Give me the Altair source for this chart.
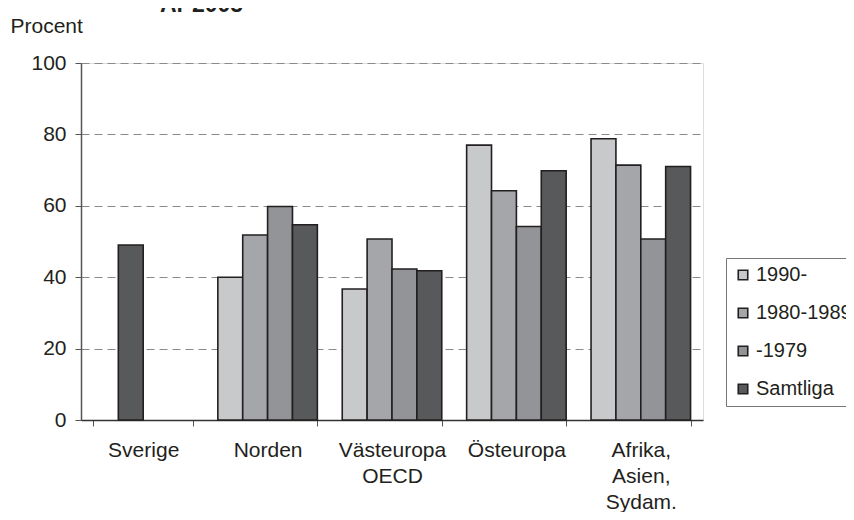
import altair as alt
import pandas as pd

regions = ["Sverige", "Norden", "Västeuropa\nOECD", "Östeuropa", "Afrika,\nAsien,\nSydam."]
series = ["1990-", "1980-1989", "-1979", "Samtliga"]
colors = ["#c8c9cb", "#a5a6a9", "#939497", "#58595b"]

v_1990 = [None, 40.0, 36.7, 77.0, 78.8]
v_1980 = [None, 51.8, 50.7, 64.2, 71.4]
v_1979 = [None, 59.8, 42.3, 54.2, 50.7]
v_samt = [49.0, 54.7, 41.8, 69.8, 71.0]

title_text = ["År 2005"]
y_title = "Procent"

rows = []
for s_i, (s, vals) in enumerate(zip(series, [v_1990, v_1980, v_1979, v_samt])):
    for r, v in zip(regions, vals):
        if v is None:
            continue
        # In the original, Sverige's single bar sits in the second slot of its group
        slot = series[1] if r == "Sverige" else s
        rows.append({"region": r, "series": s, "slot": slot, "value": v})
df = pd.DataFrame(rows)

INK = "#231f20"
FONT = "Liberation Sans"

bars = alt.Chart(df).mark_bar(stroke=INK, strokeWidth=1.6).encode(
    x=alt.X("region:N", sort=regions, title=None,
            scale=alt.Scale(paddingInner=0.2, paddingOuter=0.1),
            axis=alt.Axis(labelAngle=0, labelExpr="split(datum.label, '\\n')",
                          labelLineHeight=26, labelFontSize=21, labelPadding=13,
                          tickBand="extent", tickSize=6, tickColor="#555",
                          domainColor="#333", domainWidth=1.5, grid=False,
                          labelColor=INK, labelFont=FONT)),
    xOffset=alt.XOffset("slot:N", sort=series, scale=alt.Scale(paddingInner=0, paddingOuter=0)),
    y=alt.Y("value:Q", scale=alt.Scale(domain=[0, 100], nice=False),
            axis=alt.Axis(values=[0, 20, 40, 60, 80, 100], title=y_title,
                          titleAngle=0, titleAlign="left", titleBaseline="alphabetic",
                          titleX=-71, titleY=-31, titleFontSize=21, titleFontWeight="normal",
                          titleColor=INK, titleFont=FONT,
                          labelFontSize=21, labelPadding=9, labelColor=INK, labelFont=FONT,
                          tickSize=6, tickColor="#555", domainColor="#555", domainWidth=1.5,
                          grid=True, gridDash=[8, 5], gridColor="#8a8a8a", gridWidth=1.2)),
    color=alt.Color("series:N", sort=series,
                    scale=alt.Scale(domain=series, range=colors),
                    legend=alt.Legend(title=None, orient="none", legendX=645, legendY=195,
                                      symbolType="square", symbolSize=90,
                                      symbolStrokeColor=INK, symbolStrokeWidth=1.6,
                                      labelFontSize=20, labelFont=FONT, labelColor=INK,
                                      labelOffset=3, rowPadding=18, padding=7,
                                      strokeColor="#777", fillColor="white",
                                      labelLimit=300)),
)

title = alt.Chart(pd.DataFrame({"t": title_text})).mark_text(
    font=FONT, fontSize=23, fontWeight="bold", align="left", baseline="alphabetic", color=INK
).encode(text="t:N", x=alt.value(79), y=alt.value(-51))

chart = alt.layer(bars, title).properties(
    width=622, height=357,
    autosize=alt.AutoSizeParams(type="none"),
    padding={"left": 73, "top": 55, "right": 143, "bottom": 92},
).configure_view(stroke="#8c8c8c", strokeWidth=1.5).configure(background="white")

chart.save("out.html", embed_options={"renderer": "svg", "actions": False})
